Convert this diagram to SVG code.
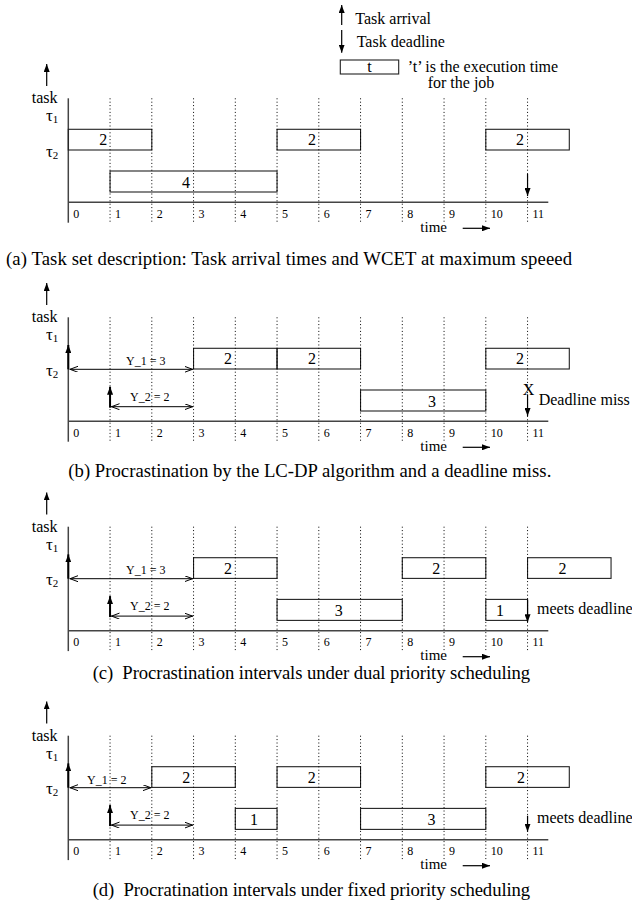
<svg xmlns="http://www.w3.org/2000/svg" width="632" height="905" viewBox="0 0 632 905">
<style>
text{font-family:"Liberation Serif","Times New Roman",serif;fill:#000}
.big{font-size:16px}
.lbl{font-size:16px;text-anchor:middle}
.tick{font-size:12px}
.ylab{font-size:12px}
.time{font-size:15px}
.tau{font-size:17px}
.sub{font-size:11px}
.cap{font-size:18.7px;white-space:pre}
.box{fill:none;stroke:#222;stroke-width:1.1}
.grid{stroke:#000;stroke-width:1;stroke-dasharray:1 2.4}
.axis{stroke:#444;stroke-width:1.5;fill:none}
.arr{stroke:#000;stroke-width:1.2;fill:none}
.thick{stroke:#000;stroke-width:2;fill:none}
.dbl{stroke:#000;stroke-width:1;fill:none}
</style>
<defs>
<marker id="ah" markerUnits="userSpaceOnUse" markerWidth="9" markerHeight="6" refX="8" refY="3" orient="auto"><path d="M0,0 L8,3 L0,6 z" fill="#000"/></marker>
<marker id="oh" markerUnits="userSpaceOnUse" markerWidth="10" markerHeight="7" refX="8.5" refY="3" orient="auto-start-reverse"><path d="M0,0 L8,3 L0,6" fill="none" stroke="#000" stroke-width="1"/></marker>
<g id="gridlines">
<line class="grid" x1="110.05" y1="-31" x2="110.05" y2="93"/>
<line class="grid" x1="151.8" y1="-31" x2="151.8" y2="93"/>
<line class="grid" x1="193.55" y1="-31" x2="193.55" y2="93"/>
<line class="grid" x1="235.3" y1="-31" x2="235.3" y2="93"/>
<line class="grid" x1="277.05" y1="-31" x2="277.05" y2="93"/>
<line class="grid" x1="318.8" y1="-31" x2="318.8" y2="93"/>
<line class="grid" x1="360.55" y1="-31" x2="360.55" y2="93"/>
<line class="grid" x1="402.3" y1="-31" x2="402.3" y2="93"/>
<line class="grid" x1="444.05" y1="-31" x2="444.05" y2="93"/>
<line class="grid" x1="485.8" y1="-31" x2="485.8" y2="93"/>
<line class="grid" x1="527.55" y1="-31" x2="527.55" y2="93"/>
</g>
<g id="frame">
<line class="arr" x1="46.7" y1="-43.3" x2="46.7" y2="-65.3" marker-end="url(#ah)"/>
<text class="big" x="31.7" y="-26">task</text>
<text class="tau" x="46" y="-8">τ<tspan class="sub" dy="2">1</tspan></text>
<text class="tau" x="46" y="27.5">τ<tspan class="sub" dy="2">2</tspan></text>
<line class="axis" x1="68.3" y1="-31" x2="68.3" y2="93.4"/>
<line class="axis" x1="68.3" y1="73" x2="548.3" y2="73"/>
<g class="tick">
<text x="73.3" y="88.7">0</text>
<text x="115" y="88.7">1</text>
<text x="156.8" y="88.7">2</text>
<text x="198.5" y="88.7">3</text>
<text x="240.3" y="88.7">4</text>
<text x="282" y="88.7">5</text>
<text x="323.8" y="88.7">6</text>
<text x="365.5" y="88.7">7</text>
<text x="407.3" y="88.7">8</text>
<text x="449" y="88.7">9</text>
<text x="490.8" y="88.7">10</text>
<text x="532.5" y="88.7">11</text>
</g>
<text class="time" x="420.3" y="102.4">time</text>
<line class="arr" x1="462.7" y1="99" x2="490" y2="99" marker-end="url(#ah)"/>
</g>
</defs>

<g id="legend">
<g id="legend-arrival"><line class="arr" x1="341.7" y1="25" x2="341.7" y2="5" marker-end="url(#ah)"/><text class="big" x="355.3" y="24">Task arrival</text></g>
<g id="legend-deadline"><line class="arr" x1="341.7" y1="30" x2="341.7" y2="52.7" marker-end="url(#ah)"/><text class="big" x="356.7" y="46.7">Task deadline</text></g>
<g id="legend-job"><rect class="box" x="340.3" y="60" width="58.4" height="14"/><text class="big" x="369.5" y="71.7" text-anchor="middle">t</text>
<text class="big" x="407.7" y="72.3">’t’ is the execution time</text>
<text class="big" x="427.7" y="88">for the job</text></g>
</g>

<!-- panel a -->
<g id="panel-a" transform="translate(0,129.3)">
<use href="#frame"/>
<g id="a-t1-j1"><rect class="box" x="68.3" y="0" width="83.5" height="20.7"/><text class="lbl" x="103.3" y="16">2</text></g>
<g id="a-t1-j2"><rect class="box" x="277.05" y="0" width="83.5" height="20.7"/><text class="lbl" x="312" y="16">2</text></g>
<g id="a-t1-j3"><rect class="box" x="485.8" y="0" width="83.5" height="20.7"/><text class="lbl" x="520" y="16">2</text></g>
<g id="a-t2-j1"><rect class="box" x="110.05" y="41.7" width="167" height="21"/><text class="lbl" x="186" y="58.5">4</text></g>
<use href="#gridlines"/>
<g id="a-connectors">
<line class="arr" x1="527.55" y1="44.7" x2="527.55" y2="66.7" marker-end="url(#ah)"/>
</g>
</g>
<text class="cap" x="6" y="265" textLength="566" lengthAdjust="spacing">(a) Task set description: Task arrival times and WCET at maximum speeed</text>

<!-- panel b -->
<g id="panel-b" transform="translate(0,348.3)">
<use href="#frame"/>
<g id="b-t1-j1"><rect class="box" x="193.55" y="0" width="83.5" height="20.7"/><text class="lbl" x="228" y="16">2</text></g>
<g id="b-t1-j2"><rect class="box" x="277.05" y="0" width="83.5" height="20.7"/><text class="lbl" x="312" y="16">2</text></g>
<g id="b-t1-j3"><rect class="box" x="485.8" y="0" width="83.5" height="20.7"/><text class="lbl" x="520" y="16">2</text></g>
<g id="b-t2-j1"><rect class="box" x="360.55" y="41.7" width="125.25" height="21"/><text class="lbl" x="432" y="58.5">3</text></g>
<use href="#gridlines"/>
<g id="b-connectors">
<line class="thick" x1="68.3" y1="21" x2="68.3" y2="-3.3" marker-end="url(#ah)"/>
<line class="dbl" x1="69.5" y1="21" x2="193" y2="21" marker-start="url(#oh)" marker-end="url(#oh)"/>
<line class="thick" x1="110.05" y1="59.4" x2="110.05" y2="38.4" marker-end="url(#ah)"/>
<line class="dbl" x1="111" y1="58.4" x2="193" y2="58.4" marker-start="url(#oh)" marker-end="url(#oh)"/>
<line class="arr" x1="527.55" y1="46" x2="527.55" y2="67.7" marker-end="url(#ah)"/>
</g>
<text class="ylab" x="126" y="16.8">Y_1 = 3</text>
<text class="ylab" x="130" y="52.6">Y_2 = 2</text>
<text class="big" x="522.7" y="46.7">X</text>
<text class="big" x="538.7" y="56.7">Deadline miss</text>
</g>
<text class="cap" x="68.3" y="476.5" textLength="483" lengthAdjust="spacing">(b) Procrastination by the LC-DP algorithm and a deadline miss.</text>

<!-- panel c -->
<g id="panel-c" transform="translate(0,557.7)">
<use href="#frame"/>
<g id="c-t1-j1"><rect class="box" x="193.55" y="0" width="83.5" height="20.7"/><text class="lbl" x="228" y="16">2</text></g>
<g id="c-t1-j2"><rect class="box" x="402.3" y="0" width="83.5" height="20.7"/><text class="lbl" x="436.3" y="16">2</text></g>
<g id="c-t1-j3"><rect class="box" x="527.55" y="0" width="83.5" height="20.7"/><text class="lbl" x="562.5" y="16">2</text></g>
<g id="c-t2-j1"><rect class="box" x="277.05" y="41.7" width="125.25" height="21"/><text class="lbl" x="338.7" y="58.5">3</text></g>
<g id="c-t2-j2"><rect class="box" x="485.8" y="41.7" width="41.75" height="21"/><text class="lbl" x="500" y="58.5">1</text></g>
<use href="#gridlines"/>
<g id="c-connectors">
<line class="thick" x1="68.3" y1="21" x2="68.3" y2="-3.3" marker-end="url(#ah)"/>
<line class="dbl" x1="69.5" y1="21" x2="193" y2="21" marker-start="url(#oh)" marker-end="url(#oh)"/>
<line class="thick" x1="110.05" y1="59.4" x2="110.05" y2="38.4" marker-end="url(#ah)"/>
<line class="dbl" x1="111" y1="58.4" x2="193" y2="58.4" marker-start="url(#oh)" marker-end="url(#oh)"/>
<line class="arr" x1="527.55" y1="42" x2="527.55" y2="64.5" marker-end="url(#ah)"/>
</g>
<text class="ylab" x="126" y="16.8">Y_1 = 3</text>
<text class="ylab" x="130" y="52.6">Y_2 = 2</text>
<text class="big" x="537" y="56.3">meets deadline</text>
</g>
<text class="cap" x="92.7" y="679" textLength="437.5" lengthAdjust="spacing">(c)  Procrastination intervals under dual priority scheduling</text>

<!-- panel d -->
<g id="panel-d" transform="translate(0,766.7)">
<use href="#frame"/>
<g id="d-t1-j1"><rect class="box" x="151.8" y="0" width="83.5" height="20.7"/><text class="lbl" x="186.3" y="16">2</text></g>
<g id="d-t1-j2"><rect class="box" x="277.05" y="0" width="83.5" height="20.7"/><text class="lbl" x="311.7" y="16">2</text></g>
<g id="d-t1-j3"><rect class="box" x="485.8" y="0" width="83.5" height="20.7"/><text class="lbl" x="521" y="16">2</text></g>
<g id="d-t2-j1"><rect class="box" x="235.3" y="41.7" width="41.75" height="21"/><text class="lbl" x="254" y="58.5">1</text></g>
<g id="d-t2-j2"><rect class="box" x="360.55" y="41.7" width="125.25" height="21"/><text class="lbl" x="431.5" y="58.5">3</text></g>
<use href="#gridlines"/>
<g id="d-connectors">
<line class="thick" x1="68.3" y1="21" x2="68.3" y2="-3.3" marker-end="url(#ah)"/>
<line class="dbl" x1="69.5" y1="21" x2="151.3" y2="21" marker-start="url(#oh)" marker-end="url(#oh)"/>
<line class="thick" x1="110.05" y1="59.4" x2="110.05" y2="38.4" marker-end="url(#ah)"/>
<line class="dbl" x1="111" y1="58.4" x2="193" y2="58.4" marker-start="url(#oh)" marker-end="url(#oh)"/>
<line class="arr" x1="527.55" y1="49" x2="527.55" y2="65" marker-end="url(#ah)"/>
</g>
<text class="ylab" x="87" y="17">Y_1 = 2</text>
<text class="ylab" x="130" y="52.6">Y_2 = 2</text>
<text class="big" x="537" y="56.6">meets deadline</text>
</g>
<text class="cap" x="92.7" y="895.5" textLength="437.5" lengthAdjust="spacing">(d)  Procratination intervals under fixed priority scheduling</text>
</svg>
